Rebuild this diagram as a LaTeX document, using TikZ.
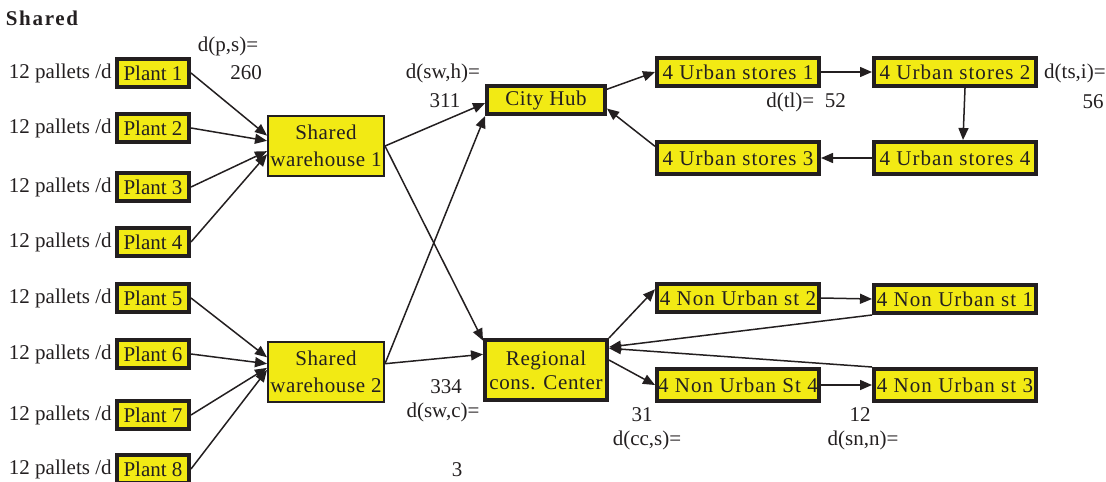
\documentclass[tikz,border=0pt]{standalone}
\usepackage{fontspec}
\setmainfont{Liberation Serif}
\usetikzlibrary{arrows.meta}
\definecolor{ink}{HTML}{231F20}
\definecolor{boxyellow}{HTML}{F2EA14}
\tikzset{site/.style={draw=ink, line width=2pt, fill=boxyellow, text=ink, inner sep=0.5pt, minimum height=14pt}}
\tikzset{plant/.style={site, minimum width=36pt, label={[text=ink, inner sep=0pt, label distance=1.5pt]left:12 pallets /d}}}
\tikzset{store/.style={site, minimum width=81pt, font=\addfontfeatures{LetterSpace=5}}}
\tikzset{depot/.style={draw=ink, line width=1pt, fill=boxyellow, text=ink, align=center, inner sep=1pt, minimum width=58pt, minimum height=30pt, font=\fontsize{10.5}{13.5}\selectfont\addfontfeatures{LetterSpace=3}}}
\tikzset{dist/.style={text=ink, inner sep=0pt}}
\tikzset{flow/.style={draw=ink, line width=0.75pt, -{Triangle[length=6pt, width=5pt]}}}

\begin{document}
\fontsize{10.5}{12}\selectfont
\begin{tikzpicture}[x=0.5pt, y=-0.5pt]
    \useasboundingbox (0,0) rectangle (1106,481);
    \node (title) at (42,18) [dist, font=\bfseries\addfontfeatures{LetterSpace=8}] {Shared};

    % plants
    \node (p1) at (153,73) [plant] {Plant 1};
    \node (p2) at (153,128) [plant] {Plant 2};
    \node (p3) at (153,187) [plant] {Plant 3};
    \node (p4) at (153,242) [plant] {Plant 4};
    \node (p5) at (153,298) [plant] {Plant 5};
    \node (p6) at (153,354) [plant] {Plant 6};
    \node (p7) at (153,415) [plant] {Plant 7};
    \node (p8) at (153,469) [plant] {Plant 8};

    % warehouses and centres
    \node (sw1) at (326,146) [depot] {Shared\\warehouse 1};
    \node (sw2) at (326,372) [depot] {Shared\\warehouse 2};
    \node (hub) at (546,100) [site, minimum width=59pt, font=\addfontfeatures{LetterSpace=3}] {City Hub};
    \node (rcc) at (546,370) [site, align=center, minimum width=61pt, minimum height=30pt, font=\addfontfeatures{LetterSpace=3}] {Regional\\cons. Center};

    % stores
    \node (us1) at (738,72) [store] {4 Urban stores 1};
    \node (us2) at (955,72) [store] {4 Urban stores 2};
    \node (us3) at (738,158) [store, minimum height=16pt] {4 Urban stores 3};
    \node (us4) at (955,158) [store, minimum height=16pt] {4 Urban stores 4};
    \node (nu2) at (738,298) [store] {4 Non Urban st 2};
    \node (nu1) at (955,299) [store] {4 Non Urban st 1};
    \node (nu4) at (738,385) [store, minimum height=16pt] {4 Non Urban St 4};
    \node (nu3) at (955,385) [store, minimum height=16pt] {4 Non Urban st 3};

    % distances
    \node (dps) at (228,46) [dist] {d(p,s)=};
    \node (dpsv) at (246,73) [dist] {260};
    \node (dswh) at (443,73) [dist] {d(sw,h)=};
    \node (dswhv) at (445,101) [dist] {311};
    \node (dswcv) at (446,387) [dist] {334};
    \node (dswc) at (443,412) [dist] {d(sw,c)=};
    \node (three) at (457,470) [dist] {3};
    \node (dtl) at (806,102) [dist] {d(tl)=~~52};
    \node (dtsi) at (1106,73) [dist, anchor=east] {d(ts,i)=};
    \node (dtsiv) at (1093,102) [dist] {56};
    \node (dccsv) at (642,415) [dist] {31};
    \node (dccs) at (647,440) [dist] {d(cc,s)=};
    \node (dsnnv) at (860,415) [dist] {12};
    \node (dsnn) at (863,440) [dist] {d(sn,n)=};

    % plants to warehouses
    \draw (p1.east) edge [flow] (sw1.170);
    \draw (p2.east) edge [flow] (sw1.175);
    \draw (p3.east) edge [flow] (sw1.185);
    \draw (p4.east) edge [flow] (sw1.188);
    \draw (p5.east) edge [flow] (sw2.166);
    \draw (p6.east) edge [flow] (sw2.172);
    \draw (p7.east) edge [flow] (sw2.176);
    \draw (p8.east) edge [flow] (sw2.178);

    % warehouses to hub and centre
    \draw (sw1.east) edge [flow] (hub.183);
    \draw (sw1.east) edge [flow] (rcc.155);
    \draw (sw2.8) edge [flow] (hub.south west);
    \draw (sw2.8) edge [flow] (rcc.166);

    % urban tour
    \draw (hub.10) edge [flow] (us1.west);
    \draw (us1.east) edge [flow] (us2.west);
    \draw ([xshift=5pt]us2.south) edge [flow] ([xshift=4pt]us4.north);
    \draw (us4.west) edge [flow] (us3.east);
    \draw (us3.172) edge [flow] (hub.-8);

    % non urban tours
    \draw (rcc.north east) edge [flow] (nu2.174);
    \draw (nu2.east) edge [flow] (nu1.west);
    \draw (nu1.south west) edge [flow] (rcc.20);
    \draw (rcc.9) edge [flow] (nu4.west);
    \draw (nu4.east) edge [flow] (nu3.west);
    \draw (nu3.north west) edge [flow] (rcc.19);
\end{tikzpicture}
\end{document}
